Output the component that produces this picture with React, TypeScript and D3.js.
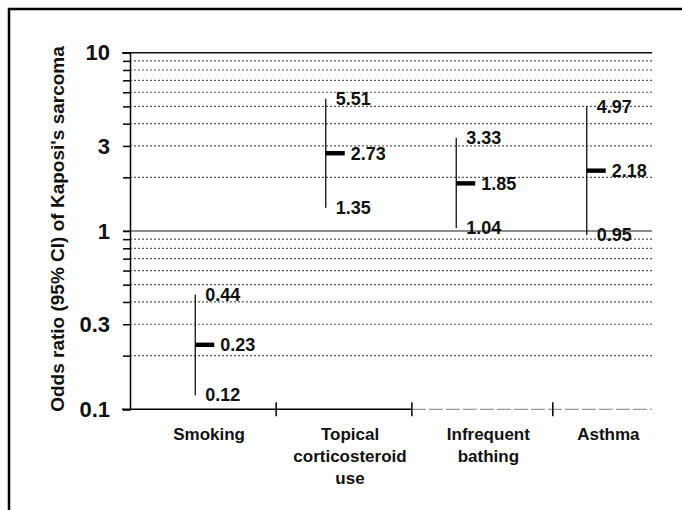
import React, { useEffect, useRef } from 'react';
import * as d3 from 'd3';

// forest-style odds ratio chart, log y axis

const categoryLines = [['Smoking'], ['Topical', 'corticosteroid', 'use'], ['Infrequent', 'bathing'], ['Asthma']];
const oddsRatio = [0.23, 2.73, 1.85, 2.18];
const ciLower = [0.12, 1.35, 1.04, 0.95];
const ciUpper = [0.44, 5.51, 3.33, 4.97];
const yTickLabels = [10, 3, 1, 0.3, 0.1];
const yTickText = ['10', '3', '1', '0.3', '0.1'];
const gridValues = [0.2, 0.3, 0.4, 0.5, 0.6, 0.7, 0.8, 0.9, 2, 3, 4, 5, 6, 7, 8, 9];
// separator ticks on the x axis, in category-index units
const separatorPositions = [0.62, 1.66, 2.74];

const W = 682;
const H = 510;
const FONT = 'Liberation Sans, Arial, sans-serif';

const App = () => {
    const svgRef = useRef(null);

    useEffect(() => {
        const svg = d3.select(svgRef.current);
        svg.selectAll('*').remove();

        const x = d3.scaleLinear().domain([-0.5, 3.5]).range([130, 652]);
        const y = d3.scaleLog().domain([0.1, 10]).range([409.3, 52.7]);

        // frame (left + top only, the scan is cropped)
        svg.append('path')
            .attr('d', `M9,${H} L9,9 L${W},9`)
            .attr('fill', 'none')
            .attr('stroke', '#000')
            .attr('stroke-width', 2.5);

        // dotted gridlines
        svg.append('g')
            .selectAll('line')
            .data(gridValues)
            .join('line')
            .attr('x1', x(-0.5))
            .attr('x2', x(3.5))
            .attr('y1', d => y(d))
            .attr('y2', d => y(d))
            .attr('stroke', '#555')
            .attr('stroke-width', 1.2)
            .attr('stroke-dasharray', '2,2');

        // reference line at 1
        svg.append('line')
            .attr('x1', x(-0.5) - 7).attr('x2', x(3.5))
            .attr('y1', y(1)).attr('y2', y(1))
            .attr('stroke', '#666')
            .attr('stroke-width', 1.5);

        // top line at 10
        svg.append('line')
            .attr('x1', x(-0.5) - 8).attr('x2', x(3.5))
            .attr('y1', y(10)).attr('y2', y(10))
            .attr('stroke', '#111')
            .attr('stroke-width', 1.5);

        // y axis with ticks to the left
        svg.append('g')
            .attr('transform', `translate(${x(-0.5)},0)`)
            .call(d3.axisLeft(y).tickValues(gridValues.concat([1, 10, 0.1])).tickSize(7).tickFormat(() => ''))
            .call(g => g.selectAll('line').attr('stroke', '#000').attr('stroke-width', 1.5))
            .call(g => g.select('.domain').attr('stroke', '#000').attr('stroke-width', 1.5));

        // y tick labels
        svg.append('g')
            .selectAll('text')
            .data(yTickLabels)
            .join('text')
            .attr('x', x(-0.5) - 20)
            .attr('y', d => y(d))
            .attr('dy', '0.35em')
            .attr('text-anchor', 'end')
            .attr('font-family', FONT)
            .attr('font-weight', 'bold')
            .attr('font-size', 22)
            .attr('fill', '#111')
            .text((d, i) => yTickText[i]);

        // y axis title
        svg.append('text')
            .attr('transform', `translate(57,229) rotate(-90)`)
            .attr('text-anchor', 'middle')
            .attr('dy', '0.35em')
            .attr('font-family', FONT)
            .attr('font-weight', 'bold')
            .attr('font-size', 19)
            .attr('fill', '#111')
            .text("Odds ratio (95% CI) of Kaposi's sarcoma");

        // x axis: dark at the left, faded to the right like the scan
        svg.append('line')
            .attr('x1', x(-0.5) - 8).attr('x2', x(separatorPositions[1]))
            .attr('y1', y(0.1)).attr('y2', y(0.1))
            .attr('stroke', '#000').attr('stroke-width', 1.5);
        svg.append('line')
            .attr('x1', x(separatorPositions[1])).attr('x2', x(3.5))
            .attr('y1', y(0.1)).attr('y2', y(0.1))
            .attr('stroke', '#999').attr('stroke-width', 1.3)
            .attr('stroke-dasharray', '14,3');

        svg.append('g')
            .selectAll('line')
            .data(separatorPositions)
            .join('line')
            .attr('x1', d => x(d)).attr('x2', d => x(d))
            .attr('y1', y(0.1) - 7).attr('y2', y(0.1) + 7)
            .attr('stroke', '#000')
            .attr('stroke-width', 1.5);

        // category labels, centred between separators
        const bounds = [-0.5].concat(separatorPositions, [3.5]);
        const labels = svg.append('g')
            .selectAll('text')
            .data(categoryLines)
            .join('text')
            .attr('text-anchor', 'middle')
            .attr('font-family', FONT)
            .attr('font-weight', 'bold')
            .attr('font-size', 17)
            .attr('fill', '#111');
        labels.each(function (lines, i) {
            const cx = (x(bounds[i]) + x(bounds[i + 1])) / 2 + 6;
            d3.select(this).selectAll('tspan')
                .data(lines)
                .join('tspan')
                .attr('x', cx)
                .attr('y', (d, j) => 440 + j * 22)
                .text(d => d);
        });

        const idx = d3.range(oddsRatio.length);

        // CI lines
        svg.append('g')
            .selectAll('line')
            .data(idx)
            .join('line')
            .attr('x1', i => x(i)).attr('x2', i => x(i))
            .attr('y1', i => y(ciLower[i]))
            .attr('y2', i => y(ciUpper[i]))
            .attr('stroke', '#111')
            .attr('stroke-width', 1.3);

        // point estimates
        svg.append('g')
            .selectAll('rect')
            .data(idx)
            .join('rect')
            .attr('x', i => x(i))
            .attr('y', i => y(oddsRatio[i]) - 2.2)
            .attr('width', 19)
            .attr('height', 4.4)
            .attr('fill', '#000');

        const valueText = (vals, dx) => svg.append('g')
            .selectAll('text')
            .data(idx)
            .join('text')
            .attr('x', i => x(i) + dx)
            .attr('y', i => y(vals[i]))
            .attr('dy', '0.35em')
            .attr('font-family', FONT)
            .attr('font-weight', 'bold')
            .attr('font-size', 18)
            .attr('fill', '#111')
            .text(i => vals[i].toFixed(2));

        valueText(ciUpper, 10);
        valueText(ciLower, 10);
        valueText(oddsRatio, 25);
    }, []);

    return (
        <svg ref={svgRef} width={W} height={H}
            style={{ position: 'absolute', left: 0, top: 0, background: '#fff' }}></svg>
    );
};

export default App;
